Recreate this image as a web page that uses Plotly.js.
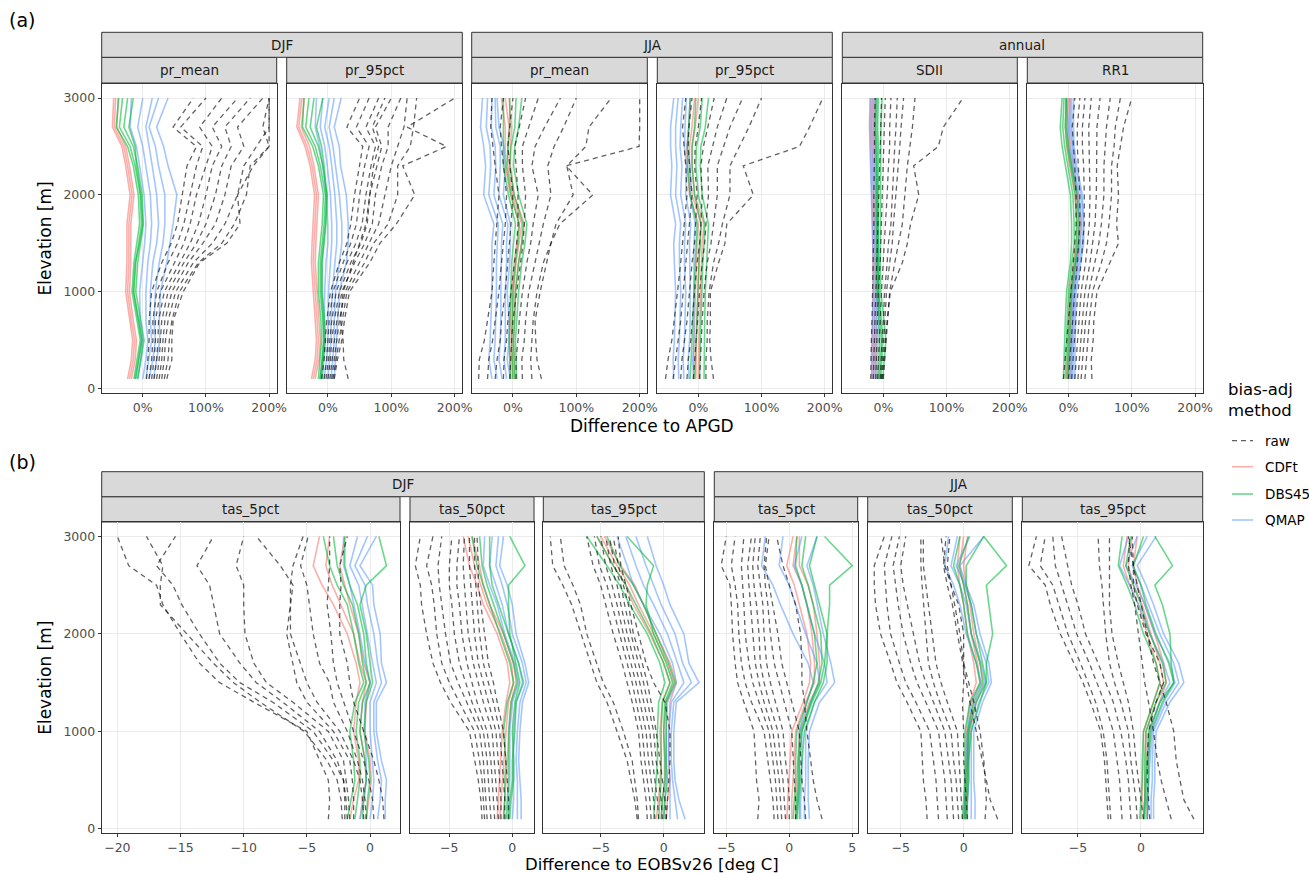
<!DOCTYPE html>
<html>
<head>
<meta charset="utf-8">
<script src="https://cdn.plot.ly/plotly-3.0.1.min.js"></script>
<style>html,body{margin:0;padding:0;background:#fff;}#chart{width:1309px;height:873px;}</style>
</head>
<body>
<div id="chart"></div>
<script>
// ---------- DATA ----------
const elev = [100,300,500,700,1000,1300,1500,1700,2000,2300,2500,2700,3000];
const methods = ["raw","CDFt","DBS45","QMAP"];
const seasonsA = ["DJF","JJA","annual"];
const seasonsB = ["DJF","JJA"];
const indicesA = ["pr_mean","pr_95pct","pr_mean","pr_95pct","SDII","RR1"];
const indicesB = ["tas_5pct","tas_50pct","tas_95pct","tas_5pct","tas_50pct","tas_95pct"];
const pctTickVals = [0,100,200];
const pctTickText = ["0%","100%","200%"];
const elevTicks = [0,1000,2000,3000];

// (a) DJF pr_mean  [% difference]
const djfPrMeanRaw = [
[6,8,10,10,14,30,45,55,62,70,85,48,80],
[10,14,16,16,22,40,55,65,75,85,95,60,100],
[14,18,20,20,28,50,65,75,85,100,110,90,125],
[18,22,24,25,34,58,75,88,100,110,125,110,150],
[22,26,28,30,40,65,85,100,115,125,140,130,170],
[26,30,32,35,46,72,95,115,130,140,160,150,190],
[30,34,36,40,52,80,110,130,150,160,180,200,200],
[34,40,42,46,58,88,125,145,164,170,200,200,200],
[38,46,46,48,64,90,133,154,150,175,200,190,200]];
const djfPrMeanCDFt = [
[-24,-18,-16,-20,-27,-25,-25,-25,-20,-27,-33,-48,-46],
[-21,-15,-13,-18,-24,-22,-22,-22,-17,-24,-30,-45,-43],
[-18,-12,-10,-15,-21,-19,-19,-19,-14,-21,-27,-41,-39]];
const djfPrMeanDBS45 = [
[-14,-9,-4,-9,-17,-14,-9,-5,-7,-15,-24,-42,-38],
[-11,-6,-1,-6,-14,-11,-6,-2,-4,-12,-20,-37,-32],
[-8,-3,2,-3,-11,-8,-3,1,-1,-8,-15,-30,-24],
[-12,-7,-2,-7,-15,-12,-5,0,-3,-10,-12,-22,-15]];
const djfPrMeanQMAP = [
[-8,-3,0,-4,-5,0,3,5,2,-5,-10,-20,-18],
[0,5,8,5,5,8,12,14,12,5,0,-8,0],
[5,10,14,12,12,16,22,25,22,15,10,5,15],
[10,16,20,18,20,26,32,35,35,25,20,10,25],
[17,22,27,26,28,38,43,48,54,40,33,22,40]];

// (a) DJF pr_95pct
const djfPr95Raw = [
[-10,-6,-4,-2,4,18,30,36,42,50,55,30,50],
[-6,-2,0,2,8,24,36,45,50,58,65,45,65],
[-3,1,3,6,13,30,44,54,60,68,75,60,80],
[0,4,6,10,18,36,52,62,66,78,85,75,100],
[3,7,10,14,22,42,58,70,75,85,95,95,115],
[6,10,14,18,27,50,65,80,90,100,110,120,125],
[8,13,18,22,30,58,72,95,110,110,130,135,140],
[10,15,22,26,34,66,82,108,137,118,187,125,200],
[32,25,24,20,24,40,50,60,66,72,80,70,90]];
const djfPr95CDFt = [
[-26,-20,-18,-20,-23,-26,-25,-23,-21,-28,-36,-49,-44],
[-23,-17,-15,-17,-20,-23,-22,-20,-18,-25,-33,-46,-41],
[-20,-14,-12,-14,-17,-20,-19,-17,-15,-22,-29,-42,-37]];
const djfPr95DBS45 = [
[-15,-12,-10,-11,-15,-15,-12,-9,-7,-15,-24,-40,-38],
[-12,-9,-7,-8,-12,-12,-9,-6,-4,-12,-20,-35,-30],
[-9,-6,-4,-5,-9,-9,-6,-3,-1,-8,-15,-28,-22],
[-11,-8,-6,-7,-10,-10,-7,-4,-2,-6,-10,-18,-8]];
const djfPr95QMAP = [
[-13,-8,-5,-6,-5,-3,0,0,-3,-8,-13,-20,-18],
[-6,-2,0,0,1,4,6,6,4,-1,-5,-12,-8],
[0,3,5,5,7,11,14,14,11,6,2,-5,2],
[5,8,10,10,12,18,22,22,18,12,8,2,10],
[10,12,14,15,18,29,32,32,29,20,18,10,21]];

// (a) JJA pr_mean
const jjaPrMeanRaw = [
[-54,-53,-45,-40,-33,-30,-28,-25,-22,-28,-32,-35,-33],
[-40,-38,-32,-28,-22,-18,-15,-12,-10,-15,-18,-20,-15],
[-28,-25,-20,-18,-12,-8,-5,-3,0,-5,-8,-5,0],
[-15,-14,-10,-8,-3,2,6,8,8,5,3,10,20],
[-5,-4,-2,0,6,12,16,18,20,15,15,25,40],
[5,5,8,10,15,22,28,32,40,30,35,50,75],
[15,14,18,20,25,35,42,48,60,55,65,80,100],
[30,28,30,32,38,48,60,68,95,85,115,120,155],
[45,38,36,35,43,53,60,74,126,84,199,200,200]];
const jjaPrMeanCDFt = [
[-3,-4,-5,-4,-2,2,6,10,-4,-12,-12,-12,-18],
[0,-1,-2,-1,1,5,10,14,-1,-8,-8,-6,-12],
[3,2,1,2,4,9,14,18,2,-4,-4,-2,-6]];
const jjaPrMeanDBS45 = [
[-4,-5,-6,-5,-4,-2,1,4,-7,-15,-15,-15,-15],
[0,-1,-2,-1,0,4,8,10,-3,-10,-8,-5,-5],
[3,2,1,3,4,9,14,16,2,-5,-3,3,5],
[6,5,4,6,9,14,19,22,9,1,3,9,14]];
const jjaPrMeanQMAP = [
[-33,-38,-36,-35,-33,-33,-33,-30,-46,-43,-46,-51,-48],
[-25,-30,-28,-27,-26,-26,-25,-23,-38,-35,-36,-42,-40],
[-17,-22,-20,-19,-19,-18,-18,-16,-30,-27,-28,-34,-33],
[-10,-14,-12,-12,-12,-10,-10,-8,-22,-20,-20,-27,-28],
[-4,-9,-6,-6,-9,-5,-4,-4,-15,-12,-14,-22,-25]];

// (a) JJA pr_95pct
const jjaPr95Raw = [
[-52,-48,-42,-38,-33,-28,-25,-22,-18,-20,-22,-25,-20],
[-40,-36,-32,-28,-24,-20,-17,-14,-10,-14,-16,-15,-10],
[-28,-26,-22,-18,-14,-10,-6,-4,-2,-6,-5,0,5],
[-18,-16,-12,-10,-6,-2,2,4,6,4,8,15,25],
[-8,-6,-4,-2,2,6,10,12,16,15,22,30,45],
[2,3,5,6,9,14,20,24,30,30,40,50,70],
[12,12,14,14,17,24,32,38,50,50,65,80,100],
[24,20,18,19,19,32,42,45,87,71,160,176,197]];
const jjaPr95CDFt = [
[-8,-8,-7,-6,-5,-3,-2,0,-14,-18,-18,-15,-12],
[-4,-4,-3,-2,-1,1,2,5,-10,-14,-14,-10,-6],
[0,0,1,2,3,5,6,9,-6,-10,-10,-5,0]];
const jjaPr95DBS45 = [
[-13,-11,-10,-9,-7,-5,-3,-2,-13,-17,-17,-15,-13],
[-6,-5,-4,-3,-1,1,3,4,-6,-10,-10,-6,-4],
[2,2,3,4,5,7,9,10,0,-4,-3,3,6],
[9,9,10,10,11,13,15,16,6,3,4,11,16]];
const jjaPr95QMAP = [
[-39,-40,-38,-37,-36,-38,-39,-36,-44,-42,-44,-44,-39],
[-31,-32,-30,-29,-28,-30,-30,-28,-36,-34,-36,-36,-32],
[-23,-24,-22,-21,-20,-22,-22,-20,-28,-26,-29,-28,-25],
[-15,-16,-14,-13,-13,-14,-14,-12,-20,-19,-22,-21,-19],
[-7,-9,-7,-7,-7,-7,-7,-5,-13,-13,-18,-15,-13]];

// (a) annual SDII
const annSdiiRaw = [
[-20,-20,-19,-18,-17,-16,-15,-15,-15,-14,-14,-14,-13],
[-16,-15,-14,-13,-12,-10,-9,-8,-7,-6,-5,-4,-3],
[-12,-11,-10,-9,-8,-5,-4,-3,-2,0,1,2,3],
[-9,-8,-6,-5,-3,0,2,4,6,8,10,10,12],
[-5,-4,-2,0,2,6,8,12,14,16,18,20,22],
[-3,-1,1,3,5,10,14,16,20,24,26,28,32],
[0,2,4,6,10,18,24,30,34,38,42,46,50],
[-2,0,3,6,11,30,38,43,56,48,87,95,126]];
const annSdiiCDFt = [
[-18,-18,-17,-17,-16,-16,-16,-17,-18,-19,-20,-21,-20],
[-15,-15,-14,-14,-13,-13,-13,-14,-15,-16,-17,-18,-17],
[-12,-12,-11,-11,-10,-10,-10,-11,-12,-13,-14,-15,-14]];
const annSdiiDBS45 = [
[-8,-7,-6,-7,-10,-11,-11,-10,-10,-11,-12,-13,-12],
[-4,-3,-1,-3,-7,-8,-8,-7,-7,-8,-8,-9,-8],
[-1,1,4,1,-4,-5,-5,-4,-4,-5,-4,-4,-2],
[-6,-5,-3,-5,-8,-9,-9,-9,-9,-9,-10,-11,-10]];
const annSdiiQMAP = [
[-18,-19,-18,-17,-16,-16,-17,-18,-19,-20,-21,-22,-21],
[-15,-16,-15,-14,-13,-13,-14,-15,-16,-17,-18,-19,-18],
[-12,-13,-12,-11,-10,-10,-11,-12,-13,-14,-15,-16,-15],
[-9,-10,-9,-8,-7,-7,-8,-9,-10,-11,-12,-13,-12]];

// (a) annual RR1
const annRr1Raw = [
[-8,-5,-3,0,4,8,10,12,12,10,8,6,10],
[0,2,4,6,10,14,16,18,18,16,14,14,18],
[5,7,9,11,15,20,23,25,25,24,22,22,26],
[10,12,14,16,20,27,30,33,34,33,32,32,36],
[15,17,19,22,26,34,38,42,44,44,44,45,50],
[20,22,24,27,32,42,48,52,56,56,58,60,66],
[26,28,30,33,38,52,60,64,68,68,72,74,82],
[37,36,39,40,45,66,79,76,79,77,82,87,100]];
const annRr1CDFt = [
[-3,-2,-1,0,2,8,12,14,10,2,-3,-5,-3],
[0,1,2,3,5,11,15,17,13,5,0,-2,0],
[3,4,5,6,8,14,18,20,16,8,3,1,3]];
const annRr1DBS45 = [
[-8,-7,-7,-5,-3,3,5,5,3,-5,-10,-13,-10],
[-5,-4,-4,-2,0,6,9,9,7,-1,-6,-9,-7],
[-2,-1,-1,1,3,10,13,13,11,3,-2,-5,-4],
[0,1,1,3,5,12,16,16,14,5,0,-3,-3]];
const annRr1QMAP = [
[3,3,4,5,6,12,16,18,14,6,2,0,-3],
[5,5,6,7,8,15,19,21,17,8,5,3,2],
[7,7,8,9,10,17,22,24,20,11,7,5,5],
[10,10,10,11,12,19,24,24,22,13,9,8,8]];

// (b) DJF tas_5pct  [deg C]
const djfTas5Raw = [
[-3.3,-3.2,-3.3,-4.0,-5.0,-9.2,-11.9,-13.5,-15.0,-16.4,-16.9,-19.1,-20.0],
[-2.0,-2.0,-2.1,-2.9,-4.5,-7.7,-10.3,-11.9,-13.5,-14.9,-15.6,-16.9,-15.4],
[-2.2,-2.3,-2.6,-3.4,-5.2,-8.7,-10.8,-12.4,-14.5,-16.6,-16.6,-16.4,-17.7],
[-1.8,-1.9,-2.1,-2.6,-4.0,-6.9,-9.0,-10.3,-11.9,-12.4,-12.7,-13.7,-12.4],
[-1.6,-1.7,-1.9,-2.1,-3.3,-6.1,-8.2,-9.2,-9.9,-10.0,-10.0,-10.6,-10.0],
[-1.3,-1.3,-1.4,-1.6,-2.9,-5.0,-5.8,-6.1,-6.6,-6.3,-6.1,-7.1,-9.0],
[-0.5,-0.6,-0.8,-1.3,-2.4,-4.2,-5.0,-5.5,-6.3,-6.3,-6.3,-6.1,-5.3],
[-0.3,-0.4,-0.6,-1.0,-1.8,-2.9,-3.2,-4.0,-4.5,-4.8,-5.0,-5.5,-4.9],
[0.3,0.2,-0.1,-0.5,-1.3,-2.1,-2.6,-2.9,-3.1,-3.4,-3.3,-3.2,-3.2],
[1.1,1.0,0.7,0.3,-0.5,-1.3,-1.6,-1.8,-2.4,-2.4,-2.3,-2.4,-1.8]];
const djfTas5CDFt = [
[-1.6,-1.3,-0.9,-0.9,-1.3,-1.1,-0.8,-1.1,-1.8,-2.9,-3.8,-4.5,-4.0],
[-0.8,-0.6,-0.3,-0.4,-0.8,-0.6,-0.3,-0.8,-1.3,-2.3,-3.0,-3.5,-3.2],
[-0.3,-0.1,0.1,0.0,-0.4,-0.3,0.0,-0.5,-0.9,-1.6,-2.0,-2.4,-2.0]];
const djfTas5DBS45 = [
[-1.8,-1.5,-1.2,-1.3,-1.6,-1.2,-0.5,-0.9,-1.3,-1.8,-2.6,-3.2,-3.7],
[-1.2,-1.0,-0.8,-0.8,-1.1,-0.9,-0.3,-0.6,-0.9,-1.4,-2.1,-2.6,-2.9],
[-0.6,-0.5,-0.3,-0.4,-0.8,-0.6,0.0,-0.3,-0.5,-1.0,-1.6,-2.0,-2.0],
[-0.3,-0.2,0.0,-0.1,-0.5,-0.3,0.2,0.0,-0.3,-0.8,-0.3,1.3,0.7]];
const djfTas5QMAP = [
[-0.8,-0.5,-0.3,-0.3,-0.4,-0.4,0.0,-0.4,-0.8,-1.3,-1.6,-2.1,-2.1],
[0.0,0.2,0.3,0.2,0.0,0.0,0.5,0.2,-0.2,-0.6,-0.9,-1.6,-1.0],
[0.6,0.8,0.9,0.6,0.3,0.3,0.9,0.6,0.3,-0.2,-0.4,-1.2,-0.2],
[1.2,1.2,1.3,0.9,0.5,0.5,1.3,0.9,0.8,0.3,0.2,-0.8,0.5]];

// (b) DJF tas_50pct
const djfTas50Raw = [
[-2.4,-2.5,-2.7,-3.0,-3.4,-4.9,-5.7,-6.3,-6.8,-7.2,-7.3,-7.7,-7.3],
[-2.2,-2.3,-2.4,-2.6,-3.0,-4.2,-5.0,-5.6,-6.0,-6.2,-6.4,-6.8,-6.3],
[-2.0,-2.1,-2.2,-2.3,-2.6,-3.6,-4.3,-4.9,-5.3,-5.6,-5.8,-5.9,-5.6],
[-1.7,-1.8,-1.9,-2.0,-2.3,-3.2,-3.7,-4.2,-4.6,-4.8,-5.0,-5.0,-4.8],
[-1.4,-1.5,-1.6,-1.7,-2.0,-2.8,-3.2,-3.6,-4.0,-4.2,-4.4,-4.4,-4.2],
[-1.1,-1.2,-1.3,-1.4,-1.6,-2.3,-2.7,-3.1,-3.5,-3.7,-3.8,-3.9,-3.8],
[-0.9,-0.9,-1.0,-1.1,-1.3,-1.9,-2.3,-2.7,-3.0,-3.2,-3.3,-3.4,-3.4],
[-0.6,-0.6,-0.7,-0.8,-1.0,-1.5,-1.9,-2.3,-2.6,-2.8,-2.9,-3.0,-3.0],
[-0.3,-0.3,-0.4,-0.5,-0.7,-1.2,-1.5,-1.9,-2.2,-2.5,-2.7,-2.7,-2.8]];
const djfTas50CDFt = [
[-1.2,-1.1,-1.0,-0.9,-0.8,-0.5,-0.2,-0.4,-1.2,-2.3,-2.8,-3.4,-3.9],
[-1.0,-0.9,-0.8,-0.7,-0.5,-0.3,0.1,-0.1,-0.9,-2.0,-2.5,-3.0,-3.5],
[-0.7,-0.6,-0.5,-0.4,-0.2,-0.1,0.3,0.1,-0.7,-1.8,-2.3,-2.6,-3.2]];
const djfTas50DBS45 = [
[-0.7,-0.6,-0.6,-0.5,-0.7,-0.4,0.1,-0.2,-1.0,-1.8,-2.3,-2.8,-3.2],
[-0.5,-0.4,-0.3,-0.3,-0.3,-0.1,0.4,0.1,-0.7,-1.5,-2.0,-2.4,-2.6],
[-0.3,-0.2,0.0,0.0,0.2,0.3,0.9,0.5,-0.3,-1.1,-1.6,-1.8,-1.8],
[-0.2,-0.1,0.1,0.1,0.0,0.2,0.6,0.3,-0.2,-0.3,-0.3,1.0,-0.2]];
const djfTas50QMAP = [
[-0.4,-0.3,-0.2,-0.2,-0.2,0.0,0.5,0.2,-0.6,-1.2,-1.8,-2.3,-2.2],
[0.0,0.1,0.1,0.1,0.1,0.3,0.8,0.5,-0.3,-0.8,-1.3,-1.8,-1.6],
[0.4,0.4,0.4,0.3,0.4,0.6,1.1,0.8,0.0,-0.4,-0.8,-1.3,-1.1],
[0.7,0.7,0.6,0.5,0.6,0.8,1.3,1.0,0.3,0.0,-0.4,-1.0,-0.7]];

// (b) DJF tas_95pct
const djfTas95Raw = [
[-2.1,-2.3,-2.6,-2.9,-3.7,-4.5,-5.3,-5.8,-6.6,-7.3,-8.0,-8.8,-9.0],
[-2.0,-2.1,-2.3,-2.5,-3.2,-4.0,-4.8,-5.3,-6.1,-6.6,-7.2,-7.9,-8.2],
[-1.3,-1.4,-1.6,-1.8,-2.0,-2.5,-2.9,-3.3,-4.0,-4.6,-5.0,-5.6,-6.1],
[-1.0,-1.1,-1.3,-1.5,-1.7,-2.2,-2.5,-2.9,-3.5,-4.1,-4.5,-5.1,-5.5],
[-0.7,-0.8,-1.0,-1.2,-1.4,-1.9,-2.2,-2.6,-3.2,-3.7,-4.1,-4.6,-5.0],
[-0.4,-0.5,-0.7,-0.9,-1.1,-1.6,-1.9,-2.3,-2.9,-3.4,-3.7,-4.2,-4.6],
[-0.1,-0.2,-0.4,-0.6,-0.8,-1.3,-1.6,-2.0,-2.6,-3.1,-3.4,-3.9,-4.3],
[0.2,0.1,-0.1,-0.3,-0.6,-1.0,-1.3,-1.7,-2.4,-2.8,-3.2,-3.6,-4.0],
[0.2,0.3,0.4,0.5,0.5,0.1,-0.8,-1.4,-2.0,-2.6,-3.0,-3.4,-3.6]];
const djfTas95CDFt = [
[-0.6,-0.4,-0.3,-0.2,-0.3,-0.1,0.5,0.0,-1.1,-2.4,-3.0,-4.0,-5.3],
[-0.2,-0.1,0.1,0.1,0.0,0.2,0.8,0.3,-0.8,-2.0,-2.7,-3.7,-5.0],
[0.2,0.3,0.5,0.4,0.4,0.5,1.0,0.5,-0.6,-1.6,-2.3,-3.4,-4.7]];
const djfTas95DBS45 = [
[-0.8,-0.7,-0.6,-0.5,-0.5,-0.4,0.1,-0.3,-1.3,-2.7,-3.5,-4.5,-6.1],
[-0.4,-0.3,-0.2,-0.2,-0.2,-0.1,0.5,0.0,-1.0,-2.2,-3.0,-4.0,-5.3],
[0.0,0.1,0.3,0.2,0.2,0.2,0.9,0.4,-0.6,-1.6,-2.4,-3.5,-4.5],
[-0.2,-0.1,0.1,0.1,0.0,0.1,0.7,0.2,-0.8,-1.4,-1.3,-0.8,-2.9]];
const djfTas95QMAP = [
[0.0,0.1,0.2,0.2,0.2,0.3,1.0,0.7,-0.3,-1.6,-2.4,-2.9,-3.7],
[0.5,0.5,0.5,0.4,0.4,0.6,1.6,1.1,0.3,-0.8,-1.6,-2.2,-3.0],
[1.1,0.9,0.7,0.6,0.6,0.8,2.2,1.5,0.9,-0.2,-0.8,-1.4,-2.2],
[1.7,1.2,0.9,0.8,0.8,1.0,2.8,2.0,1.6,0.5,0.0,-0.6,-1.3]];

// (b) JJA tas_5pct
const jjaTas5Raw = [
[-2.5,-2.4,-2.6,-2.7,-2.8,-3.6,-4.1,-4.3,-4.5,-4.6,-4.7,-5.4,-5.0],
[-1.2,-1.3,-1.5,-1.7,-2.0,-3.0,-3.5,-3.8,-4.0,-4.1,-4.3,-4.6,-4.3],
[-0.9,-1.0,-1.1,-1.3,-1.6,-2.4,-2.9,-3.2,-3.5,-3.6,-3.7,-3.8,-3.6],
[-0.6,-0.7,-0.8,-1.0,-1.3,-2.0,-2.4,-2.7,-2.9,-3.1,-3.2,-3.3,-3.0],
[-0.3,-0.4,-0.5,-0.7,-0.9,-1.6,-2.0,-2.3,-2.4,-2.6,-2.8,-2.9,-2.7],
[0.0,0.0,-0.1,-0.3,-0.5,-1.1,-1.5,-1.8,-2.0,-2.1,-2.3,-2.5,-2.3],
[0.5,0.5,0.4,0.3,0.2,-0.4,-0.8,-1.2,-1.5,-1.7,-1.9,-2.0,-1.8],
[1.3,1.2,1.0,0.9,0.8,0.2,-0.2,-0.6,-0.9,-1.3,-1.6,-1.9,-1.6],
[2.6,2.2,1.9,1.7,1.4,1.2,1.0,1.0,0.9,0.5,0.0,-0.5,-1.0]];
const jjaTas5CDFt = [
[-0.2,-0.1,0.0,0.1,0.2,1.1,1.6,1.7,1.4,0.8,0.4,-0.2,0.3],
[0.2,0.2,0.3,0.4,0.5,1.3,2.0,2.0,1.8,1.4,1.0,0.3,0.6],
[0.5,0.5,0.6,0.7,0.8,1.6,2.4,2.4,2.2,1.9,1.5,0.8,0.8]];
const jjaTas5DBS45 = [
[0.3,0.4,0.5,0.5,0.6,1.4,1.9,2.2,2.0,1.4,1.0,0.5,0.6],
[0.5,0.6,0.7,0.7,0.9,1.7,2.3,2.6,2.5,1.9,1.5,1.0,1.3],
[0.8,0.8,0.9,1.0,1.2,2.0,2.7,3.0,3.0,2.4,2.0,1.6,2.2],
[0.6,0.7,0.8,0.8,1.0,1.8,2.5,2.8,3.0,3.2,3.2,5.0,2.8]];
const jjaTas5QMAP = [
[0.6,0.7,0.8,0.8,0.8,1.4,1.9,1.5,0.3,-0.7,-1.3,-2.2,-1.9],
[0.9,0.9,1.0,1.0,1.0,1.7,2.4,2.2,1.3,0.5,0.0,-0.8,-0.5],
[1.2,1.2,1.3,1.3,1.3,2.0,3.0,2.8,2.0,1.4,1.0,0.4,1.0],
[1.6,1.5,1.5,1.5,1.6,2.4,3.6,3.3,2.7,2.2,1.9,1.4,2.2]];

// (b) JJA tas_50pct
const jjaTas50Raw = [
[-2.9,-3.0,-3.2,-3.3,-3.4,-4.5,-5.3,-5.8,-6.6,-7.0,-7.1,-7.1,-6.3],
[-2.0,-2.1,-2.2,-2.4,-2.7,-3.8,-4.6,-5.1,-5.8,-6.1,-6.2,-6.3,-5.7],
[-1.3,-1.4,-1.5,-1.7,-2.0,-3.0,-3.7,-4.2,-4.8,-5.2,-5.4,-5.6,-5.1],
[-0.8,-0.9,-1.0,-1.2,-1.5,-2.4,-3.0,-3.5,-4.0,-4.5,-4.8,-5.0,-4.6],
[-0.4,-0.5,-0.6,-0.8,-1.0,-1.9,-2.4,-2.8,-3.0,-3.2,-3.3,-3.4,-3.4],
[-0.1,-0.2,-0.3,-0.4,-0.5,-1.3,-1.8,-2.2,-2.5,-2.8,-3.0,-3.2,-3.2],
[0.3,0.2,0.1,0.0,0.0,-0.1,0.0,0.0,0.0,-0.4,-1.0,-1.5,-1.8],
[1.7,1.8,1.7,1.6,1.3,0.8,0.4,0.0,-0.3,-0.7,-1.0,-1.3,-1.1],
[2.7,2.1,1.8,1.5,1.0,0.5,0.2,-0.1,-0.5,-0.9,-1.3,-1.6,-1.4]];
const jjaTas50CDFt = [
[0.0,0.1,0.1,0.2,0.2,0.5,1.0,0.8,0.3,0.0,-0.3,-0.5,-0.3],
[0.1,0.2,0.2,0.3,0.4,0.7,1.3,1.1,0.6,0.3,0.0,-0.3,0.0],
[0.2,0.3,0.3,0.4,0.5,1.0,1.6,1.3,0.8,0.5,0.2,0.0,0.3]];
const jjaTas50DBS45 = [
[-0.1,0.0,0.1,0.1,0.1,0.5,1.3,1.0,0.3,0.0,-0.3,-0.8,-0.3],
[0.1,0.1,0.2,0.3,0.3,0.8,1.5,1.3,0.6,0.3,0.0,-0.4,0.4],
[0.2,0.3,0.4,0.4,0.6,1.3,1.8,1.5,1.0,0.6,0.2,0.2,1.6],
[0.1,0.2,0.3,0.3,0.4,1.0,1.8,1.8,2.3,2.0,1.8,3.4,1.6]];
const jjaTas50QMAP = [
[0.0,0.1,0.1,0.2,0.3,0.6,1.4,1.0,0.2,-0.3,-0.8,-1.5,-1.2],
[0.3,0.3,0.4,0.4,0.4,0.9,1.7,1.4,0.6,0.2,-0.3,-1.0,-0.5],
[0.6,0.6,0.6,0.6,0.6,1.2,2.0,1.8,1.0,0.6,0.1,-0.6,0.5],
[0.9,0.9,0.8,0.8,0.8,1.5,2.2,2.0,1.3,0.8,0.2,-0.3,1.6]];

// (b) JJA tas_95pct
const jjaTas95Raw = [
[-2.6,-2.7,-2.8,-2.9,-3.2,-4.0,-4.6,-5.3,-6.4,-7.2,-7.6,-8.9,-8.3],
[-2.4,-2.5,-2.6,-2.7,-3.0,-3.6,-4.2,-4.8,-5.8,-6.5,-7.0,-8.0,-7.6],
[-1.5,-1.6,-1.7,-1.9,-2.2,-2.9,-3.5,-4.1,-5.1,-5.8,-6.3,-6.8,-7.0],
[-0.8,-0.9,-1.0,-1.2,-1.6,-2.2,-2.8,-3.4,-4.4,-5.0,-5.5,-5.8,-6.3],
[-0.3,-0.4,-0.6,-0.8,-1.0,-1.6,-2.1,-2.5,-2.8,-3.0,-3.1,-3.3,-3.4],
[0.2,0.0,-0.2,-0.4,-0.6,-1.0,-1.4,-1.8,-2.3,-2.5,-2.5,-2.5,-2.5],
[0.7,0.6,0.5,0.5,0.6,1.2,1.8,1.5,0.4,-0.3,-0.6,-0.6,-1.0],
[2.4,2.0,1.6,1.3,1.0,0.6,0.3,0.1,-0.2,-0.5,-0.8,-1.0,-0.9],
[4.2,3.4,3.1,2.8,2.6,2.0,1.5,1.0,0.5,0.0,-0.3,-0.6,-0.7]];
const jjaTas95CDFt = [
[0.0,0.1,0.1,0.2,0.2,1.0,1.5,1.2,0.5,-0.2,-0.9,-1.4,-1.1],
[0.2,0.3,0.3,0.4,0.4,1.2,1.8,1.5,0.8,0.1,-0.6,-1.0,-0.7],
[0.5,0.5,0.6,0.6,0.7,1.5,2.0,1.8,1.1,0.3,-0.3,-0.6,-0.3]];
const jjaTas95DBS45 = [
[-0.1,0.0,0.1,0.1,0.2,1.0,1.5,1.2,0.2,-0.5,-1.1,-1.8,-1.5],
[0.2,0.3,0.3,0.3,0.4,1.2,2.0,1.7,0.7,0.0,-0.6,-1.2,-0.8],
[0.5,0.5,0.6,0.6,0.8,1.7,2.6,2.2,1.2,0.4,0.0,-0.6,0.2],
[0.3,0.4,0.4,0.5,0.6,1.5,2.6,2.4,2.3,1.7,1.1,2.5,1.1]];
const jjaTas95QMAP = [
[0.2,0.3,0.4,0.5,0.7,1.5,2.3,1.8,0.7,-0.2,-0.9,-1.7,-1.0],
[0.5,0.6,0.6,0.7,0.9,1.8,2.7,2.3,1.1,0.3,-0.4,-1.2,-0.3],
[0.8,0.8,0.9,0.9,1.0,2.0,3.0,2.6,1.5,0.6,0.0,-0.7,0.5],
[1.0,1.0,1.1,1.1,1.2,2.3,3.4,3.0,1.8,1.0,0.4,-0.3,1.2]];

// ---------- LAYOUT HELPERS ----------
const W = 1309, H = 873;
const px = v => v / W;
const py = v => 1 - v / H;
const FONT = "DejaVu Sans, Liberation Sans, sans-serif";
const colors = {CDFt: "#F8766D", DBS45: "#00BA38", QMAP: "#619CFF"};

const rowA = {top: 84, bottom: 393, stripTop: 32.3, stripMid: 57.3, stripBot: 83};
const rowB = {top: 522.3, bottom: 833.3, stripTop: 471.7, stripMid: 496.7, stripBot: 522};

const panels = [
  {row: rowA, x0: 101.7, x1: 276.7, range: [-65, 212], pct: true, data: [djfPrMeanRaw, djfPrMeanCDFt, djfPrMeanDBS45, djfPrMeanQMAP], label: indicesA[0], first: true},
  {row: rowA, x0: 286.7, x1: 462.3, range: [-65, 212], pct: true, data: [djfPr95Raw, djfPr95CDFt, djfPr95DBS45, djfPr95QMAP], label: indicesA[1]},
  {row: rowA, x0: 471.7, x1: 647.3, range: [-65, 212], pct: true, data: [jjaPrMeanRaw, jjaPrMeanCDFt, jjaPrMeanDBS45, jjaPrMeanQMAP], label: indicesA[2]},
  {row: rowA, x0: 657.3, x1: 832.3, range: [-65, 212], pct: true, data: [jjaPr95Raw, jjaPr95CDFt, jjaPr95DBS45, jjaPr95QMAP], label: indicesA[3]},
  {row: rowA, x0: 842.3, x1: 1017.3, range: [-65, 212], pct: true, data: [annSdiiRaw, annSdiiCDFt, annSdiiDBS45, annSdiiQMAP], label: indicesA[4]},
  {row: rowA, x0: 1027.3, x1: 1202.7, range: [-65, 212], pct: true, data: [annRr1Raw, annRr1CDFt, annRr1DBS45, annRr1QMAP], label: indicesA[5]},
  {row: rowB, x0: 101.7, x1: 400, range: [-21.24, 2.37], data: [djfTas5Raw, djfTas5CDFt, djfTas5DBS45, djfTas5QMAP], label: indicesB[0], first: true},
  {row: rowB, x0: 410, x1: 534, range: [-8.12, 1.72], data: [djfTas50Raw, djfTas50CDFt, djfTas50DBS45, djfTas50QMAP], label: indicesB[1]},
  {row: rowB, x0: 543.3, x1: 704.3, range: [-9.55, 3.22], data: [djfTas95Raw, djfTas95CDFt, djfTas95DBS45, djfTas95QMAP], label: indicesB[2]},
  {row: rowB, x0: 714.3, x1: 857.7, range: [-5.95, 5.43], data: [jjaTas5Raw, jjaTas5CDFt, jjaTas5DBS45, jjaTas5QMAP], label: indicesB[3]},
  {row: rowB, x0: 867.7, x1: 1012.3, range: [-7.62, 3.86], data: [jjaTas50Raw, jjaTas50CDFt, jjaTas50DBS45, jjaTas50QMAP], label: indicesB[4]},
  {row: rowB, x0: 1022.3, x1: 1202.7, range: [-9.42, 4.9], data: [jjaTas95Raw, jjaTas95CDFt, jjaTas95DBS45, jjaTas95QMAP], label: indicesB[5]}
];
const groups = [
  {row: rowA, x0: 101.7, x1: 462.3, label: seasonsA[0]},
  {row: rowA, x0: 471.7, x1: 832.3, label: seasonsA[1]},
  {row: rowA, x0: 842.3, x1: 1202.7, label: seasonsA[2]},
  {row: rowB, x0: 101.7, x1: 704.3, label: seasonsB[0]},
  {row: rowB, x0: 714.3, x1: 1202.7, label: seasonsB[1]}
];

const traces = [];
const layout = {
  width: W, height: H,
  margin: {l: 0, r: 0, t: 0, b: 0, pad: 0},
  paper_bgcolor: "#ffffff", plot_bgcolor: "#ffffff",
  showlegend: false,
  font: {family: FONT, color: "#000"},
  shapes: [], annotations: []
};

const TICKFONT = {family: FONT, size: 12.5, color: "#4D4D4D"};
const RAWSTYLE = {color: "#000000", width: 1.3, dash: "5px,4px"};
const RAWOP = 0.62, COLOP = 0.58, COLW = 1.6;
const drawOrder = [1, 3, 2, 0]; // CDFt, QMAP, DBS45, raw on top

panels.forEach((p, i) => {
  const k = i === 0 ? "" : String(i + 1);
  const xa = "x" + k, ya = "y" + k;
  layout["xaxis" + k] = {
    domain: [px(p.x0), px(p.x1)], range: p.range, anchor: ya,
    showgrid: true, gridcolor: "#EBEBEB", gridwidth: 1, zeroline: false,
    showline: true, mirror: true, linecolor: "#333333", linewidth: 1,
    ticks: "outside", ticklen: 3, tickcolor: "#333333", tickwidth: 1,
    tickfont: TICKFONT, fixedrange: true
  };
  if (p.pct) { layout["xaxis" + k].tickmode = "array"; layout["xaxis" + k].tickvals = pctTickVals; layout["xaxis" + k].ticktext = pctTickText; }
  else { layout["xaxis" + k].tickmode = "linear"; layout["xaxis" + k].tick0 = 0; layout["xaxis" + k].dtick = 5; }
  layout["yaxis" + k] = {
    domain: [py(p.row.bottom), py(p.row.top)], range: [-45, 3145], anchor: xa,
    tickmode: "array", tickvals: elevTicks,
    showgrid: true, gridcolor: "#EBEBEB", gridwidth: 1, zeroline: false,
    showline: true, mirror: true, linecolor: "#333333", linewidth: 1,
    ticks: p.first ? "outside" : "", ticklen: 3, tickcolor: "#333333",
    showticklabels: !!p.first,
    tickfont: TICKFONT, fixedrange: true
  };
  drawOrder.forEach(m => {
    const set = p.data[m];
    const name = methods[m];
    set.forEach(vals => {
      if (m === 0) {
        traces.push({type: "scatter", mode: "lines", x: vals, y: elev, xaxis: xa, yaxis: ya,
          name: name, hoverinfo: "skip", opacity: RAWOP, line: RAWSTYLE});
      } else {
        traces.push({type: "scatter", mode: "lines", x: vals, y: elev, xaxis: xa, yaxis: ya,
          name: name, hoverinfo: "skip", opacity: COLOP,
          line: {color: colors[name], width: COLW}});
      }
    });
  });
  layout.shapes.push({type: "rect", xref: "paper", yref: "paper",
    x0: px(p.x0), x1: px(p.x1), y0: py(p.row.stripBot), y1: py(p.row.stripMid),
    fillcolor: "#D9D9D9", line: {color: "#333333", width: 1}, layer: "below"});
  layout.annotations.push({xref: "paper", yref: "paper", x: px((p.x0 + p.x1) / 2), y: py((p.row.stripMid + p.row.stripBot) / 2),
    text: p.label, showarrow: false, xanchor: "center", yanchor: "middle",
    font: {family: FONT, size: 13.5, color: "#1A1A1A"}});
});

groups.forEach(g => {
  layout.shapes.push({type: "rect", xref: "paper", yref: "paper",
    x0: px(g.x0), x1: px(g.x1), y0: py(g.row.stripMid), y1: py(g.row.stripTop),
    fillcolor: "#D9D9D9", line: {color: "#333333", width: 1}, layer: "below"});
  layout.annotations.push({xref: "paper", yref: "paper", x: px((g.x0 + g.x1) / 2), y: py((g.row.stripTop + g.row.stripMid) / 2),
    text: g.label, showarrow: false, xanchor: "center", yanchor: "middle",
    font: {family: FONT, size: 13.5, color: "#1A1A1A"}});
});

const ann = (x, y, text, size, extra) => layout.annotations.push(Object.assign({
  xref: "paper", yref: "paper", x: px(x), y: py(y), text: text, showarrow: false,
  xanchor: "center", yanchor: "middle", font: {family: FONT, size: size, color: "#000"}}, extra || {}));
ann(22, 20, "(a)", 19);
ann(22, 462, "(b)", 19);
ann(45, 238.5, "Elevation [m]", 17, {textangle: -90});
ann(45, 677.8, "Elevation [m]", 17, {textangle: -90});
ann(652, 426, "Difference to APGD", 17);
ann(652, 864, "Difference to EOBSv26 [deg C]", 16.5, {yanchor: "middle", height: 18});

// legend (manual)
layout.annotations.push({xref: "paper", yref: "paper", x: px(1226), y: py(400),
  text: "bias-adj<br>method", showarrow: false, xanchor: "left", yanchor: "middle", align: "left",
  font: {family: FONT, size: 16.5, color: "#000"}});
const legY = [440.7, 466.7, 494, 520];
methods.forEach((m, j) => {
  const isRaw = j === 0;
  layout.shapes.push({type: "line", xref: "paper", yref: "paper",
    x0: px(1232), x1: px(1253), y0: py(legY[j]), y1: py(legY[j]),
    opacity: isRaw ? RAWOP : COLOP,
    line: isRaw ? RAWSTYLE : {color: colors[m], width: COLW}});
  layout.annotations.push({xref: "paper", yref: "paper", x: px(1263), y: py(legY[j]),
    text: m, showarrow: false, xanchor: "left", yanchor: "middle",
    font: {family: FONT, size: 13.5, color: "#000"}});
});

Plotly.newPlot("chart", traces, layout, {displayModeBar: false, staticPlot: true});
</script>
</body>
</html>
